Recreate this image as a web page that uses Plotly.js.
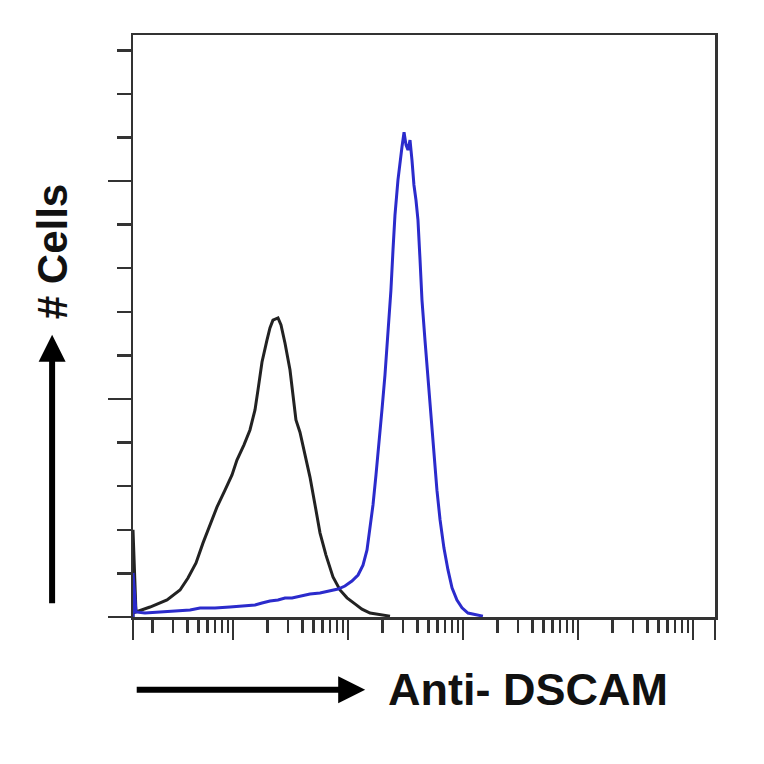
<!DOCTYPE html>
<html>
<head>
<meta charset="utf-8">
<script src="https://cdn.plot.ly/plotly-3.0.1.min.js"></script>
<style>html,body{margin:0;padding:0;background:#fff;}#chart{width:764px;height:764px;}</style>
</head>
<body>
<div id="chart"></div>
<script>
// Isotype control (black) – fluorescence intensity and cell counts
const controlIntensity = [1.349, 1.349, 1.432, 1.897, 2.667, 3.459, 4.055, 4.764, 5.483, 6.310, 7.244, 8.511, 9.795,
  10.81, 12.45, 14.03, 15.52, 16.48, 17.86, 19.72, 20.94, 22.23, 24.60, 26.12, 28.31, 31.26, 33.19, 35.24,
  38.19, 42.27, 46.67, 51.64, 57.02, 64.27, 73.96, 85.11, 97.95, 114.8, 132.1, 155.2, 189.7, 231.7];
const controlCounts = [0, 20.0, 1.15, 2.29, 3.90, 6.19, 8.94, 12.4, 17.0, 21.1, 25.2, 29.1, 32.6,
  36.0, 39.5, 42.9, 47.5, 52.1, 58.5, 63.5, 66.3, 68.1, 68.6, 67.0, 62.8, 56.7, 50.2, 45.2,
  42.4, 37.2, 32.1, 25.7, 19.3, 14.2, 9.2, 6.2, 4.4, 3.0, 1.8, 0.9, 0.5, 0.2];

// Anti-DSCAM stained (blue)
const dscamIntensity = [1.349, 1.349, 1.432, 1.714, 2.317, 3.126, 4.227, 5.164, 6.966, 9.397, 12.71, 15.52, 17.86,
  20.94, 24.60, 28.31, 32.58, 38.19, 46.67, 57.02, 69.66, 81.85, 93.97, 108.1, 122.2, 134.9, 146.2,
  155.2, 164.8, 175.0, 185.8, 197.2, 209.4, 222.3, 236.0, 246.0, 255.9, 271.6, 283.1, 294.4, 306.9,
  319.2, 331.9, 345.9, 359.7, 374.1, 389.9, 405.5, 422.7, 439.5, 466.7, 495.5, 526.0, 558.5, 592.9,
  631.0, 682.3, 739.6, 801.8, 885.1, 979.5, 1104, 1271, 1489];
const dscamCounts = [0, 10.1, 1.15, 0.92, 1.15, 1.38, 1.61, 2.06, 2.06, 2.29, 2.52, 2.75, 3.21,
  3.67, 3.90, 4.36, 4.36, 4.82, 5.28, 5.50, 5.96, 6.42, 7.11, 8.26, 9.63, 11.9, 15.4,
  20.0, 25.7, 32.6, 39.5, 47.5, 55.5, 64.7, 75.0, 84.2, 92.2, 100.2, 104.8, 107.8, 111.2,
  108.3, 107.1, 109.4, 104.8, 99.1, 95.6, 91.1, 81.9, 72.7, 63.5, 54.4, 45.2, 37.2, 29.1,
  22.3, 15.8, 10.8, 6.7, 3.9, 2.1, 0.9, 0.5, 0.2];

// Axis tick positions (no labels drawn)
const xMajorTicks = [1.349, 10, 100, 1000, 10000, 100000, 155000];
const xMinorTicks = [2,3,4,5,6,7,8,9, 20,30,40,50,60,70,80,90, 200,300,400,500,600,700,800,900,
  2000,3000,4000,5000,6000,7000,8000,9000, 20000,30000,40000,50000,60000,70000,80000,90000];

const xTitle = 'Anti- DSCAM';
const yTitle = '# Cells';

const axisColor = '#333333';

const data = [
  {x: controlIntensity, y: controlCounts, type: 'scatter', mode: 'lines',
   line: {color: '#222222', width: 3}, hoverinfo: 'skip', showlegend: false},
  {x: dscamIntensity, y: dscamCounts, type: 'scatter', mode: 'lines',
   line: {color: '#2b2bcc', width: 3}, hoverinfo: 'skip', showlegend: false}
];

const layout = {
  width: 764, height: 764,
  margin: {l: 133, r: 49, t: 35, b: 147},
  paper_bgcolor: '#ffffff', plot_bgcolor: '#ffffff',
  showlegend: false,
  xaxis: {
    type: 'log', range: [0.13, 5.191], autorange: false,
    showgrid: false, zeroline: false, showticklabels: false,
    showline: true, linecolor: axisColor, linewidth: 2.5, mirror: true,
    tickmode: 'array', tickvals: xMajorTicks, ticks: 'outside', ticklen: 20, tickwidth: 2.5, tickcolor: axisColor,
    minor: {tickmode: 'array', tickvals: xMinorTicks, ticks: 'outside', ticklen: 13, tickwidth: 2.5, tickcolor: axisColor, showgrid: false}
  },
  yaxis: {
    range: [0, 133.5], autorange: false,
    showgrid: false, zeroline: false, showticklabels: false,
    showline: true, linecolor: axisColor, linewidth: 2.5, mirror: true,
    tickmode: 'linear', tick0: 0, dtick: 50, ticks: 'outside', ticklen: 23, tickwidth: 2.5, tickcolor: axisColor,
    minor: {tickmode: 'linear', tick0: 0, dtick: 10, ticks: 'outside', ticklen: 14, tickwidth: 2.5, tickcolor: axisColor, showgrid: false}
  },
  annotations: [
    {xref: 'paper', yref: 'paper', x: -0.138, y: 0.628, xanchor: 'center', yanchor: 'middle',
     text: '<b>' + yTitle + '</b>', textangle: -90,
     showarrow: false, font: {family: 'Liberation Sans, Arial, sans-serif', size: 42, color: '#111'}},
    {xref: 'paper', yref: 'paper', x: 0.679, y: -0.125, xanchor: 'center', yanchor: 'middle',
     text: '<b>' + xTitle + '</b>',
     showarrow: false, font: {family: 'Liberation Sans, Arial, sans-serif', size: 45, color: '#111'}},
    {xref: 'paper', yref: 'paper', x: -0.139, y: 0.485, text: '', showarrow: true,
     ax: 0, ay: 270, arrowhead: 2, arrowsize: 0.9, arrowwidth: 6, arrowcolor: '#000'},
    {xref: 'paper', yref: 'paper', x: 0.399, y: -0.125, text: '', showarrow: true,
     ax: -230, ay: 0, arrowhead: 2, arrowsize: 0.9, arrowwidth: 6, arrowcolor: '#000'}
  ]
};

Plotly.newPlot('chart', data, layout, {staticPlot: true, displayModeBar: false});
</script>
</body>
</html>
